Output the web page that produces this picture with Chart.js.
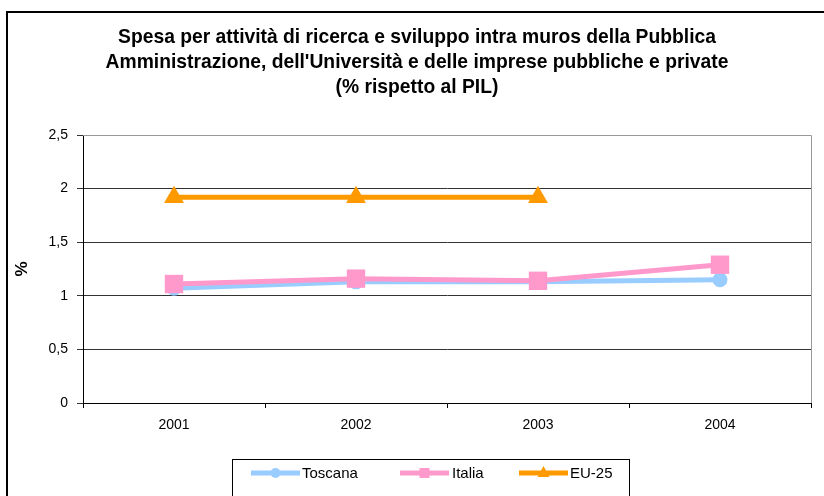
<!DOCTYPE html>
<html>
<head>
<meta charset="utf-8">
<script src="https://cdn.jsdelivr.net/npm/chart.js@4.4.1/dist/chart.umd.min.js"></script>
<style>
  html, body { margin: 0; padding: 0; background: #fff; }
  #wrap { width: 824px; height: 496px; }
</style>
</head>
<body>
<div id="wrap"><canvas id="myChart" width="824" height="496"></canvas></div>
<script>
/* R&S intra muros, % rispetto al PIL */
const years = ["2001", "2002", "2003", "2004"];
const toscana = [1.07, 1.13, 1.13, 1.15];
const italia = [1.11, 1.16, 1.14, 1.29];
const eu25 = [1.92, 1.92, 1.92, null];
const seriesNames = ["Toscana", "Italia", "EU-25"];
const titleLines = [
  "Spesa per attività di ricerca e sviluppo intra muros della Pubblica",
  "Amministrazione, dell'Università e delle imprese pubbliche e private",
  "(% rispetto al PIL)"
];

const FONT = "'Liberation Sans', Arial, sans-serif";
const BLUE = "#99CCFF", PINK = "#FF99CC", ORANGE = "#FF9900";

/* frame, plot border and the boxed legend */
const decor = {
  id: "decor",
  afterDraw(chart) {
    const ctx = chart.ctx;
    const a = chart.chartArea;
    ctx.save();
    // plot area border (top + right, gray)
    ctx.strokeStyle = "#999";
    ctx.lineWidth = 1;
    ctx.beginPath();
    ctx.moveTo(a.left, a.top + 0.5);
    ctx.lineTo(a.right + 0.5, a.top + 0.5);
    ctx.lineTo(a.right + 0.5, a.bottom);
    ctx.stroke();

    // outer frame
    ctx.strokeStyle = "#000";
    ctx.lineWidth = 2;
    ctx.beginPath();
    ctx.moveTo(7, 500);
    ctx.lineTo(7, 12);
    ctx.lineTo(830, 12);
    ctx.stroke();

    // legend box
    ctx.lineWidth = 1;
    ctx.strokeRect(232.5, 459.5, 397, 60);

    const items = [
      { x: 251, tx: 302, color: BLUE, shape: "circle" },
      { x: 400, tx: 452, color: PINK, shape: "rect" },
      { x: 519, tx: 570, color: ORANGE, shape: "triangle" }
    ];
    const y = 473;
    ctx.font = "15px " + FONT;
    ctx.textBaseline = "middle";
    items.forEach((it, i) => {
      ctx.strokeStyle = it.color;
      ctx.fillStyle = it.color;
      ctx.lineWidth = 5;
      ctx.beginPath();
      ctx.moveTo(it.x, y);
      ctx.lineTo(it.x + 49, y);
      ctx.stroke();
      const cx = it.x + 24.5;
      ctx.beginPath();
      if (it.shape === "circle") {
        ctx.arc(cx, y, 5, 0, Math.PI * 2);
      } else if (it.shape === "rect") {
        ctx.rect(cx - 5, y - 5, 10, 10);
      } else {
        ctx.moveTo(cx, y - 7);
        ctx.lineTo(cx + 6, y + 4);
        ctx.lineTo(cx - 6, y + 4);
        ctx.closePath();
      }
      ctx.fill();
      ctx.fillStyle = "#000";
      ctx.fillText(seriesNames[i], it.tx, y + 1);
    });
    ctx.restore();
  }
};

const ctx = document.getElementById("myChart");

const chart = new Chart(ctx, {
  type: "line",
  data: {
    labels: years,
    datasets: [
      {
        label: seriesNames[0],
        data: toscana,
        borderColor: BLUE,
        backgroundColor: BLUE,
        borderWidth: 5,
        pointStyle: "circle",
        pointRadius: 7.5,
        pointBorderWidth: 0,
        order: 2
      },
      {
        label: seriesNames[1],
        data: italia,
        borderColor: PINK,
        backgroundColor: PINK,
        borderWidth: 5,
        pointStyle: "rect",
        pointRadius: 13,
        pointBorderWidth: 0,
        order: 1
      },
      {
        label: seriesNames[2],
        data: eu25,
        borderColor: ORANGE,
        backgroundColor: ORANGE,
        borderWidth: 5,
        pointStyle: "triangle",
        pointRadius: 11.5,
        pointBorderWidth: 0,
        order: 0
      }
    ]
  },
  options: {
    responsive: false,
    animation: false,
    // left padding pushes the title centre to the right like the original
    layout: { padding: { left: 20, right: 10, top: 0, bottom: 0 } },
    plugins: {
      legend: { display: false },
      tooltip: { enabled: false },
      title: {
        display: true,
        text: titleLines,
        color: "#000",
        font: { family: FONT, size: 19.3, weight: "bold", lineHeight: 25 / 19.3 },
        padding: { top: 25.5, bottom: 34.5 }
      }
    },
    scales: {
      x: {
        offset: true,
        afterFit: (s) => { s.height = 93; },
        grid: {
          offset: true,
          drawOnChartArea: false,
          drawTicks: true,
          tickLength: 5,
          color: "#000"
        },
        border: { display: true, color: "#000", width: 1 },
        ticks: {
          color: "#000",
          padding: 9,
          font: { family: FONT, size: 14 }
        }
      },
      y: {
        min: 0,
        max: 2.5,
        afterFit: (s) => { s.width = 63; },
        grid: {
          color: (c) => (c.tick && c.tick.value === 2.5 ? "#999" : "#333"),
          tickColor: "#333",
          tickLength: 6
        },
        border: { display: true, color: "#000", width: 1 },
        ticks: {
          stepSize: 0.5,
          color: "#000",
          padding: 9,
          font: { family: FONT, size: 14 },
          callback: (v) => String(v).replace(".", ",")
        },
        title: {
          display: true,
          text: "%",
          color: "#000",
          font: { family: FONT, size: 17, weight: "bold" },
          padding: { top: -8, bottom: 0 }
        }
      }
    }
  },
  plugins: [decor]
});
</script>
</body>
</html>
